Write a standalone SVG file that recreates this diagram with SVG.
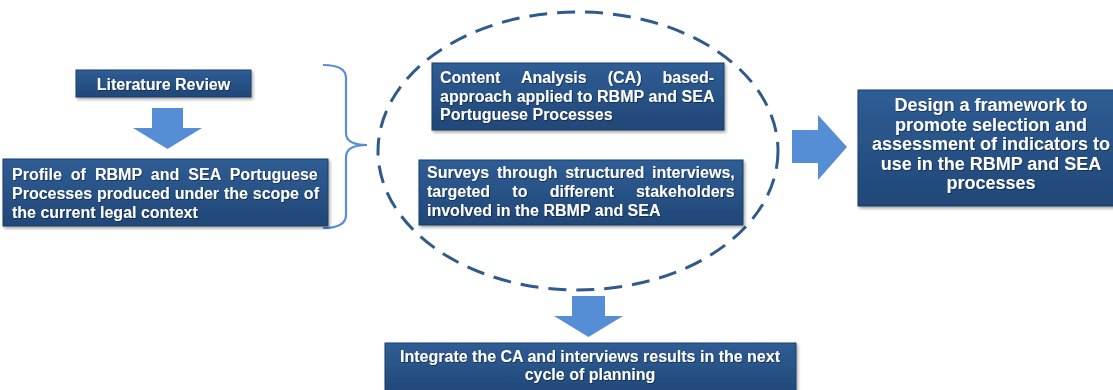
<svg xmlns="http://www.w3.org/2000/svg" width="1113" height="390" viewBox="0 0 1113 390">
  <defs>
    <linearGradient id="boxg" x1="0" y1="0" x2="0" y2="1">
      <stop offset="0" stop-color="#2F5D95"/>
      <stop offset="1" stop-color="#214777"/>
    </linearGradient>
    <filter id="sh" x="-5%" y="-10%" width="110%" height="130%">
      <feDropShadow dx="1.5" dy="2" stdDeviation="1.5" flood-color="#000" flood-opacity="0.35"/>
    </filter>
    <filter id="tsh" x="-5%" y="-20%" width="110%" height="140%">
      <feDropShadow dx="0.8" dy="0.8" stdDeviation="0.5" flood-color="#000" flood-opacity="0.5"/>
    </filter>
  </defs>
  <style>
    .box { fill: url(#boxg); stroke: #1C3E6A; stroke-width: 1; filter: url(#sh); }
    .t { font-family: "Liberation Sans", Arial, sans-serif; font-weight: bold; font-size: 16px; fill: #FFFFFF; filter: url(#tsh); }
    .tl { font-size: 18px; }
    .c { text-anchor: middle; }
    .arrow { fill: #558ED5; }
    .brace { fill: none; stroke: #558ED5; stroke-width: 2.2; }
    .ell { fill: none; stroke: #2E5A8C; stroke-width: 3; stroke-dasharray: 18 10; }
  </style>

  <g id="connectors">
    <polygon class="arrow" points="152,108 183,108 183,128 202,128 167.5,149 133,128 152,128"/>
    <path class="brace" d="M323,65 Q346,65 346,78 L346,133 Q346,145 367,145 Q346,145 346,157 L346,215 Q346,228 323,228"/>
    <ellipse class="ell" cx="578" cy="151" rx="200" ry="139"/>
    <polygon class="arrow" points="792,130 818,130 818,115 847,147 818,180 818,163 792,163"/>
    <polygon class="arrow" points="572,296 605,296 605,316 623,316 588.5,337 554,316 572,316"/>
  </g>

  <g id="literature-review">
    <rect class="box" x="76" y="70" width="175" height="27"/>
    <text class="t c" x="163.5" y="89.5">Literature Review</text>
  </g>

  <g id="profile">
    <rect class="box" x="3" y="159" width="325" height="67"/>
    <text class="t" x="12" y="179.5" word-spacing="4.6">Profile of RBMP and SEA Portuguese</text>
    <text class="t" x="12" y="198.5" word-spacing="0.4">Processes produced under the scope of</text>
    <text class="t" x="12" y="217.5">the current legal context</text>
  </g>

  <g id="content-analysis">
    <rect class="box" x="432" y="63" width="292" height="67"/>
    <text class="t" x="440" y="83" word-spacing="16.6">Content Analysis (CA) based-</text>
    <text class="t" x="440" y="101.7" word-spacing="0.2">approach applied to RBMP and SEA</text>
    <text class="t" x="440" y="120.4">Portuguese Processes</text>
  </g>

  <g id="surveys">
    <rect class="box" x="419" y="160" width="324" height="65"/>
    <text class="t" x="427" y="178.3" word-spacing="3.3">Surveys through structured interviews,</text>
    <text class="t" x="427" y="197.3" word-spacing="17.8">targeted to different stakeholders</text>
    <text class="t" x="427" y="216.2">involved in the RBMP and SEA</text>
  </g>

  <g id="design-framework">
    <rect class="box" x="858" y="90" width="262" height="116"/>
    <text class="t tl c" x="991" y="111">Design a framework to</text>
    <text class="t tl c" x="991" y="130.5">promote selection and</text>
    <text class="t tl c" x="991" y="150">assessment of indicators to</text>
    <text class="t tl c" x="991" y="169.5">use in the RBMP and SEA</text>
    <text class="t tl c" x="991" y="189">processes</text>
  </g>

  <g id="integrate">
    <rect class="box" x="385" y="343" width="411" height="52"/>
    <text class="t c" x="590" y="361.7">Integrate the CA and interviews results in the next</text>
    <text class="t c" x="590" y="380">cycle of planning</text>
  </g>
</svg>
